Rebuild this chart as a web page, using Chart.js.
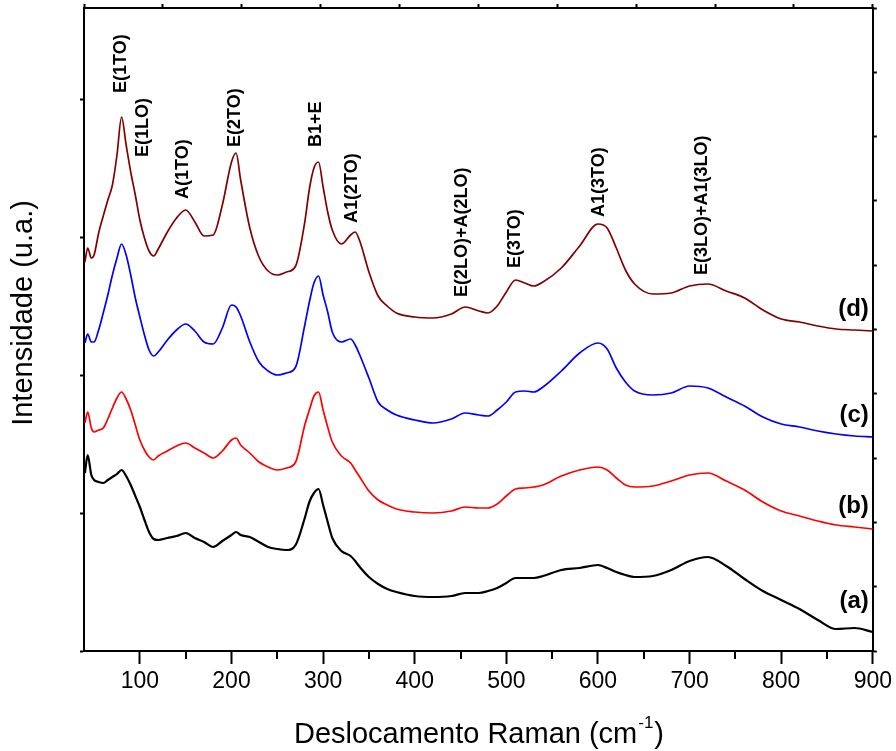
<!DOCTYPE html>
<html lang="pt">
<head>
<meta charset="UTF-8">
<title>Espectros Raman</title>
<script src="https://cdn.jsdelivr.net/npm/chart.js@4.4.1/dist/chart.umd.min.js"></script>
<style>
  html, body { margin: 0; padding: 0; background: #fff; }
  canvas { display: block; }
</style>
</head>
<body>
<canvas id="chart" width="896" height="751"></canvas>
<script>
const FONT = "'Liberation Sans', Arial, sans-serif";

// Raman shift (cm-1), shared by all four spectra
const wavenumbers = [40, 43, 47, 50, 55, 60, 65, 70, 75, 80, 85, 90, 95, 100, 105, 110, 115, 120, 130, 140,
  150, 160, 170, 180, 190, 200, 205, 210, 220, 230, 240, 250, 260, 270, 280, 285, 290, 295, 300, 305,
  310, 320, 330, 335, 340, 350, 360, 370, 380, 400, 420, 440, 455, 470, 480, 490, 500, 510, 520, 530,
  540, 560, 580, 600, 610, 620, 630, 640, 660, 680, 700, 720, 740, 760, 780, 800, 820, 840, 860, 880, 900];

// intensities (u.a., stacked offsets as in the figure)
const sampleA = [178, 196, 176, 171, 169, 168, 171, 174, 177, 181, 175, 166, 155, 144, 131, 119, 112, 111, 113, 115,
  118, 113, 109, 104, 110, 116, 119, 116, 114, 109, 104, 102, 101, 106, 133, 149, 158, 162, 146, 129,
  113, 100, 95, 90, 84, 74, 67, 62, 59, 55, 54, 55, 58, 58, 60, 63, 68, 73, 73, 73,
  75, 81, 83, 86, 83, 79, 76, 74, 75, 81, 90, 94, 85, 72, 60, 51, 42, 31, 22, 23, 19];
const sampleB = [228, 239, 223, 219, 221, 223, 232, 243, 253, 259, 252, 241, 226, 211, 201, 194, 191, 195, 200, 205,
  208, 203, 198, 193, 200, 211, 213, 206, 198, 189, 184, 181, 183, 189, 226, 241, 255, 259, 241, 224,
  209, 195, 188, 181, 174, 160, 151, 146, 142, 139, 138, 140, 144, 143, 143, 147, 155, 162, 163, 164,
  166, 175, 181, 184, 181, 173, 166, 164, 165, 170, 176, 178, 170, 161, 149, 140, 135, 130, 126, 124, 122];
const sampleC = [308, 317, 309, 309, 321, 338, 356, 376, 393, 407, 396, 376, 353, 334, 316, 301, 295, 299, 311, 321,
  327, 320, 309, 307, 323, 346, 344, 335, 309, 289, 280, 276, 278, 284, 326, 349, 368, 375, 356, 339,
  319, 309, 312, 306, 296, 273, 249, 241, 236, 231, 228, 232, 238, 236, 235, 241, 249, 259, 260, 259,
  264, 280, 298, 308, 302, 283, 269, 260, 256, 258, 265, 263, 254, 245, 234, 227, 224, 220, 217, 215, 214];
const sampleD = [389, 403, 393, 396, 418, 435, 451, 466, 496, 534, 506, 479, 456, 431, 413, 400, 395, 402, 419, 433,
  441, 429, 415, 416, 446, 489, 498, 471, 423, 394, 380, 376, 379, 385, 429, 462, 483, 489, 464, 439,
  421, 407, 416, 419, 410, 379, 355, 345, 338, 334, 333, 337, 344, 340, 338, 345, 359, 371, 368, 365,
  369, 383, 405, 427, 423, 403, 381, 367, 357, 358, 365, 367, 360, 353, 341, 332, 329, 325, 322, 321, 320];

const seriesColors = ['#000000', '#ff0000', '#0000ff', '#800000'];
const curveNames = ['(a)', '(b)', '(c)', '(d)'];
const curveLabelLevels = [50, 145, 236, 342];

// band assignments
const peakNames = ['E(1TO)', 'E(1LO)', 'A(1TO)', 'E(2TO)', 'B1+E', 'A1(2TO)', 'E(2LO)+A(2LO)', 'E(3TO)', 'A1(3TO)', 'E(3LO)+A1(3LO)'];
const peakShifts = [79, 103, 147, 203.5, 292, 332, 452, 509, 601, 714];
const peakLabelLevels = [558, 494, 452, 504, 504, 428, 354, 383, 434, 376];

const leftTicks = [0, 138, 276, 414, 552];

const decor = {
  id: 'decor',
  afterDraw(chart) {
    const { ctx, chartArea } = chart;
    const x = chart.scales.x, y = chart.scales.y;
    ctx.save();
    // minor ticks on the bottom axis
    ctx.strokeStyle = '#000';
    ctx.lineWidth = 2;
    x.ticks.forEach((t) => {
      if (t.value % 50 === 0 && t.value % 100 !== 0) {
        const px = Math.round(x.getPixelForValue(t.value));
        ctx.beginPath();
        ctx.moveTo(px, chartArea.bottom);
        ctx.lineTo(px, chartArea.bottom + 8);
        ctx.stroke();
      }
    });
    ctx.fillStyle = '#000';
    // peak labels, rotated
    ctx.font = 'bold 18px ' + FONT;
    ctx.textAlign = 'left';
    ctx.textBaseline = 'middle';
    peakNames.forEach((name, i) => {
      ctx.save();
      ctx.translate(x.getPixelForValue(peakShifts[i]), y.getPixelForValue(peakLabelLevels[i]));
      ctx.rotate(-Math.PI / 2);
      ctx.fillText(name, 0, 0);
      ctx.restore();
    });
    // curve labels
    ctx.font = 'bold 24px ' + FONT;
    ctx.textAlign = 'right';
    curveNames.forEach((n, i) => {
      ctx.fillText(n, chartArea.right - 4, y.getPixelForValue(curveLabelLevels[i]));
    });
    // y title
    ctx.font = '29px ' + FONT;
    ctx.textAlign = 'center';
    ctx.save();
    ctx.translate(24, 313);
    ctx.rotate(-Math.PI / 2);
    ctx.fillText('Intensidade (u.a.)', 0, 0);
    ctx.restore();
    // x title with superscript
    const main = 'Deslocamento Raman (cm', sup = '-1', close = ')';
    ctx.textBaseline = 'alphabetic';
    ctx.textAlign = 'left';
    ctx.font = '29px ' + FONT;
    const wMain = ctx.measureText(main).width;
    const wClose = ctx.measureText(close).width;
    ctx.font = '17px ' + FONT;
    const wSup = ctx.measureText(sup).width;
    let tx = 479 - (wMain + wSup + wClose + 2) / 2;
    ctx.font = '29px ' + FONT;
    ctx.fillText(main, tx, 743);
    tx += wMain + 1;
    ctx.font = '17px ' + FONT;
    ctx.fillText(sup, tx, 728);
    tx += wSup + 1;
    ctx.font = '29px ' + FONT;
    ctx.fillText(close, tx, 743);
    ctx.restore();
  }
};

const datasets = [sampleA, sampleB, sampleC, sampleD].map((vals, i) => ({
  label: curveNames[i],
  data: wavenumbers.map((w, j) => ({ x: w, y: vals[j] })),
  borderColor: seriesColors[i],
  borderWidth: i === 0 ? 2.2 : 1.7,
  pointRadius: 0,
  fill: false,
  cubicInterpolationMode: 'monotone',
}));

const frameGrid = { drawOnChartArea: false, tickLength: 4, tickColor: '#000', tickWidth: 2 };
const frameBorder = { color: '#000', width: 2 };

new Chart(document.getElementById('chart').getContext('2d'), {
  type: 'line',
  data: { datasets },
  options: {
    responsive: false,
    animation: false,
    layout: { padding: 0 },
    plugins: { legend: { display: false }, tooltip: { enabled: false } },
    scales: {
      x: {
        type: 'linear', position: 'bottom', min: 39, max: 900,
        border: frameBorder,
        grid: {
          drawOnChartArea: false, tickLength: 13, tickWidth: 2,
          tickColor: (c) => (c.tick && c.tick.value % 100 === 0 ? '#000' : 'rgba(0,0,0,0)'),
        },
        ticks: {
          stepSize: 50, autoSkip: false, maxRotation: 0, padding: 4, color: '#000',
          font: { family: FONT, size: 23 },
          callback: (v) => (v % 100 === 0 ? String(v) : ''),
        },
        afterFit: (s) => { s.height = 100; },
      },
      xTop: {
        type: 'linear', position: 'top', min: 0, max: 10,
        border: frameBorder, grid: frameGrid,
        ticks: { display: false, stepSize: 1 },
        afterFit: (s) => { s.height = 8; },
      },
      y: {
        type: 'linear', position: 'left', min: 0, max: 643,
        border: frameBorder, grid: frameGrid,
        ticks: { display: false },
        afterBuildTicks: (s) => { s.ticks = leftTicks.map((v) => ({ value: v })); },
        afterFit: (s) => { s.width = 84; },
      },
      yRight: {
        type: 'linear', position: 'right', min: 0, max: 10,
        border: frameBorder, grid: frameGrid,
        ticks: { display: false, stepSize: 1 },
        afterFit: (s) => { s.width = 22; },
      },
    },
  },
  plugins: [decor],
});
</script>
</body>
</html>
